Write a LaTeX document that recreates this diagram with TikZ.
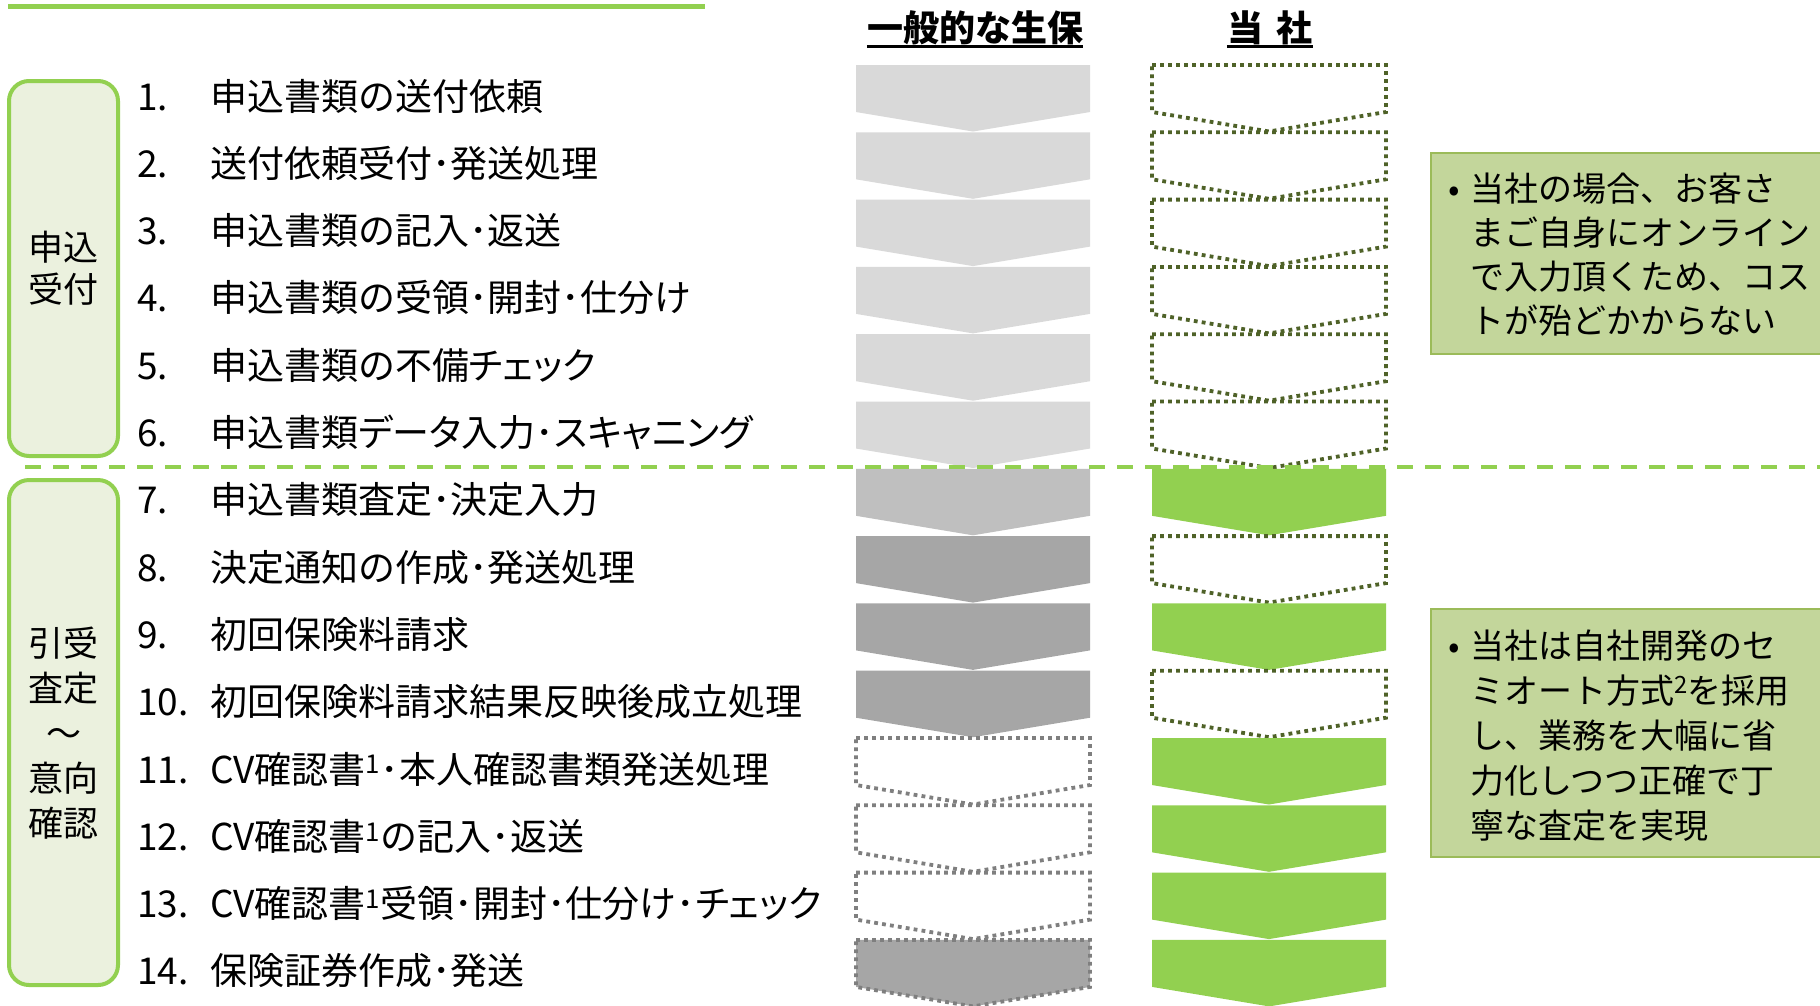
\documentclass[tikz,border=0pt]{standalone}
\usepackage{fontspec}
\setmainfont{Noto Sans CJK JP}
\newfontfamily\pfont[RawFeature=+palt]{Noto Sans CJK JP}
\definecolor{grn}{HTML}{92D050}
\definecolor{dkgrn}{HTML}{4F6228}
\definecolor{gone}{HTML}{D9D9D9}
\definecolor{gtwo}{HTML}{BFBFBF}
\definecolor{gthree}{HTML}{A6A6A6}
\definecolor{gdot}{HTML}{7F7F7F}
\definecolor{boxfill}{HTML}{EBF1DE}
\definecolor{notefill}{HTML}{C3D69B}
\definecolor{noteline}{HTML}{9BBB59}
\newcommand\fsItem{\fontsize{37}{44}\selectfont}
\newcommand\fsHdr{\fontsize{36}{44}\selectfont\bfseries}
\newcommand\fsLab{\fontsize{35}{42}\selectfont}
\newcommand\fsLabB{\fontsize{35}{45}\selectfont}
\newcommand\fsNote{\fontsize{34}{44}\selectfont}
\tikzset{
  dotline/.style={line width=3.8, dash pattern=on 3.8 off 4.2},
  lgt/.style={fill=gone},
  mid/.style={fill=gtwo},
  drk/.style={fill=gthree},
  wdot/.style={fill=white, draw=gdot, dotline},
  drkdot/.style={fill=gthree, draw=gdot, dotline},
  odot/.style={fill=white, draw=dkgrn, dotline},
  gfill/.style={fill=grn},
  itemtxt/.style={anchor=west, inner sep=0, font=\fsItem, text height=32.5, text depth=4.5},
  hdr/.style={inner sep=0, font=\fsHdr, text height=31.7, text depth=4.3},
  stagebox/.style={draw=grn, fill=boxfill, line width=4, rounded corners=20},
  stagelab/.style={align=center, inner sep=0},
  notebox/.style={draw=noteline, fill=notefill, line width=2},
  notetxt/.style={anchor=west, inner sep=0, font=\fsNote, text height=30, text depth=4},
}
\newcommand\steprow[2]{%
  \node[itemtxt] (n#1) at (137,{96+67.3*(#1-1)}) {#1.};
  \node[itemtxt] (t#1) at (210,{96+67.3*(#1-1)}) {#2};}
\begin{document}
\begin{tikzpicture}[x=1pt,y=-1pt]
\useasboundingbox (0,0) rectangle (1820,1005);
\fill[white] (0,0) rectangle (1820,1005);
% top rule
\draw[grn, line width=5] (8,6) -- (705,6);
% headers
\node[hdr] (h1) at (975,28) {一般的な生保};
\node[hdr] (h2) at (1270,28) {当\hspace{0.38em}社};
\draw[line width=3] (h1.south west) -- (h1.south east);
\draw[line width=3] (h2.south west) -- (h2.south east);
% chevrons
\foreach \i/\ls/\rs in {1/lgt/odot,2/lgt/odot,3/lgt/odot,4/lgt/odot,5/lgt/odot,6/lgt/odot,
  7/mid/gfill,8/drk/odot,9/drk/gfill,10/drk/odot,11/wdot/gfill,12/wdot/gfill,13/wdot/gfill,14/drkdot/gfill}{
  \pgfmathsetmacro\T{65+67.3*(\i-1)}
  \path[\ls] (856,\T) -- ++(234,0) -- ++(0,47) -- ++(-117,19.5) -- ++(-117,-19.5) -- cycle;
  \path[\rs] (1152,\T) -- ++(234,0) -- ++(0,47) -- ++(-117,19.5) -- ++(-117,-19.5) -- cycle;
}
% dashed separator
\draw[grn, line width=4, dash pattern=on 16 off 12] (25,467) -- (1820,467);
% stage boxes
\draw[stagebox] (9,81) rectangle (118,456);
\draw[stagebox] (9,480) rectangle (118,985);
\node[stagelab, font=\fsLab] (s1) at (63.5,268) {申込\\受付};
\node[stagelab, font=\fsLabB] (s2) at (63.5,733) {引受\\査定\\～\\意向\\確認};
% items
\steprow{1}{申込書類の送付依頼}
\steprow{2}{送付依頼受付･発送処理}
\steprow{3}{申込書類の記入･返送}
\steprow{4}{申込書類の受領･開封･仕分け}
\steprow{5}{申込書類の不備{\pfont チェック}}
\steprow{6}{申込書類{\pfont データ}入力･{\pfont スキャニング}}
\steprow{7}{申込書類査定･決定入力}
\steprow{8}{決定通知の作成･発送処理}
\steprow{9}{初回保険料請求}
\steprow{10}{初回保険料請求結果反映後成立処理}
\steprow{11}{CV確認書\textsuperscript{1}･本人確認書類発送処理}
\steprow{12}{CV確認書\textsuperscript{1}の記入･返送}
\steprow{13}{CV確認書\textsuperscript{1}受領･開封･仕分け･{\pfont チェック}}
\steprow{14}{保険証券作成･発送}
% note boxes
\draw[notebox] (1431,153) rectangle (1830,354);
\node[notetxt] (ab) at (1448,188.5) {•};
\node[notetxt] (a1) at (1470,188.5) {当社の場合、お客さ};
\node[notetxt] (a2) at (1470,232.5) {まご自身にオンライン};
\node[notetxt] (a3) at (1470,276.5) {で入力頂くため、コス};
\node[notetxt] (a4) at (1470,320.5) {トが殆どかからない};
\draw[notebox] (1431,609) rectangle (1830,857);
\node[notetxt] (bb) at (1448,645) {•};
\node[notetxt] (b1) at (1470,645) {当社は自社開発のセ};
\node[notetxt] (b2) at (1470,690) {ミオート方式\textsuperscript{2}を採用};
\node[notetxt] (b3) at (1470,735) {し、業務を大幅に省};
\node[notetxt] (b4) at (1470,780) {力化しつつ正確で丁};
\node[notetxt] (b5) at (1470,825) {寧な査定を実現};
\end{tikzpicture}
\end{document}
